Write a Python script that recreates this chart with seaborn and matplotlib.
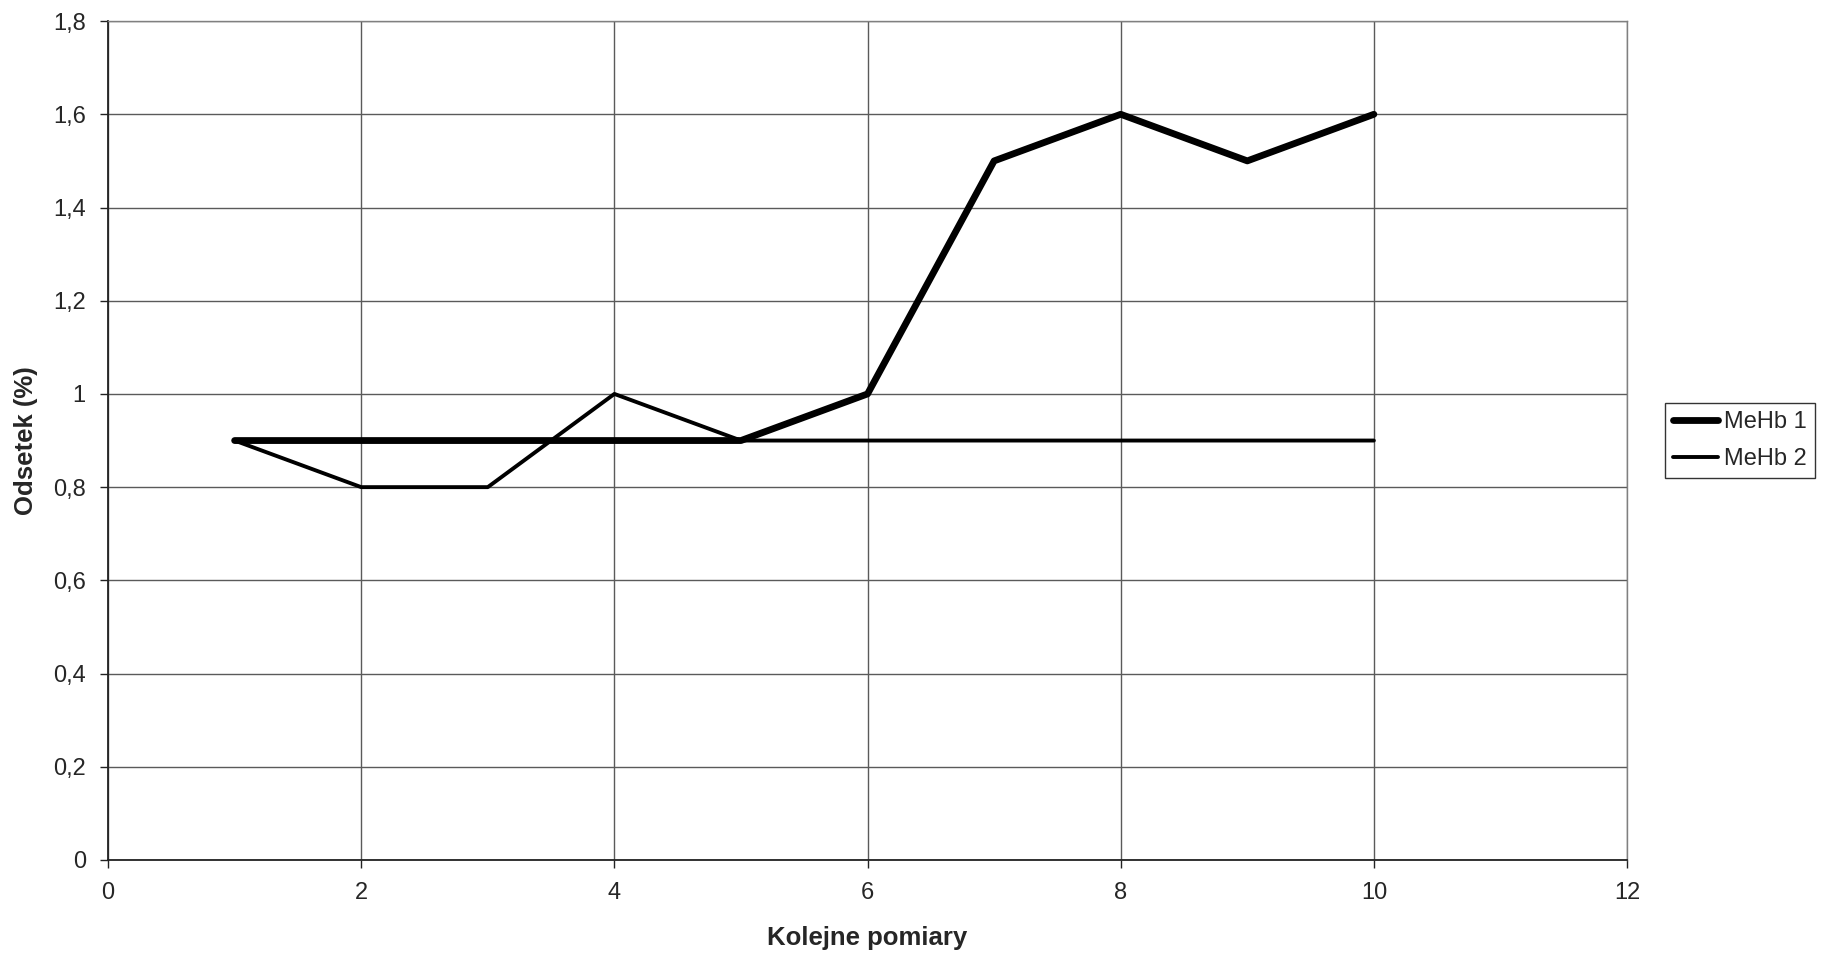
import matplotlib
matplotlib.use("Agg")
import matplotlib.pyplot as plt
import seaborn as sns
import pandas as pd
from matplotlib.ticker import FuncFormatter, MultipleLocator

pomiary = [1, 2, 3, 4, 5, 6, 7, 8, 9, 10]
mehb1 = [0.9, 0.9, 0.9, 0.9, 0.9, 1.0, 1.5, 1.6, 1.5, 1.6]
mehb2 = [0.9, 0.8, 0.8, 1.0, 0.9, 0.9, 0.9, 0.9, 0.9, 0.9]

df = pd.DataFrame({"x": pomiary * 2,
                   "y": mehb1 + mehb2,
                   "seria": ["MeHb 1"] * len(pomiary) + ["MeHb 2"] * len(pomiary)})

sns.set_style("white")
plt.rcParams['font.family'] = ['Liberation Sans', 'DejaVu Sans']

fig = plt.figure(figsize=(18.22, 9.58), dpi=100)
ax = fig.add_axes([0.0593, 0.1023, 0.8337, 0.8757])

sns.lineplot(data=df, x="x", y="y", hue="seria", size="seria",
             sizes={"MeHb 1": 4.9, "MeHb 2": 2.8},
             palette={"MeHb 1": "black", "MeHb 2": "black"},
             ax=ax, legend=True)

ax.set_xlim(0, 12)
ax.set_ylim(0, 1.8)
ax.xaxis.set_major_locator(MultipleLocator(2))
ax.yaxis.set_major_locator(MultipleLocator(0.2))
fmt = FuncFormatter(lambda v, p: ("%g" % round(v, 1)).replace(".", ","))
ax.xaxis.set_major_formatter(fmt)
ax.yaxis.set_major_formatter(fmt)
ax.grid(True, color="#5a5a5a", linewidth=1.0)
ax.set_axisbelow(True)
for s in ["top", "right"]:
    ax.spines[s].set_color("#808080")
    ax.spines[s].set_linewidth(1.0)
for s in ["left", "bottom"]:
    ax.spines[s].set_color("#222222")
    ax.spines[s].set_linewidth(1.3)
ax.tick_params(axis="both", direction="out", length=6, width=1.0, color="#222222",
               labelsize=17, pad=10, bottom=True, left=True)
ax.set_xlabel("Kolejne pomiary", fontsize=18.5, fontweight="bold", labelpad=16)
ax.set_ylabel("Odsetek (%)", fontsize=18.5, fontweight="bold", labelpad=11)

handles, labels = ax.get_legend_handles_labels()
leg = ax.legend(handles, labels, loc="center left", bbox_to_anchor=(1.025, 0.5),
                fontsize=17, frameon=True, fancybox=False, edgecolor="black",
                handlelength=1.9, handletextpad=0.25, borderpad=0.35, labelspacing=0.65,
                borderaxespad=0)
leg.get_frame().set_linewidth(1.0)

fig.savefig("out.png", dpi=100)
